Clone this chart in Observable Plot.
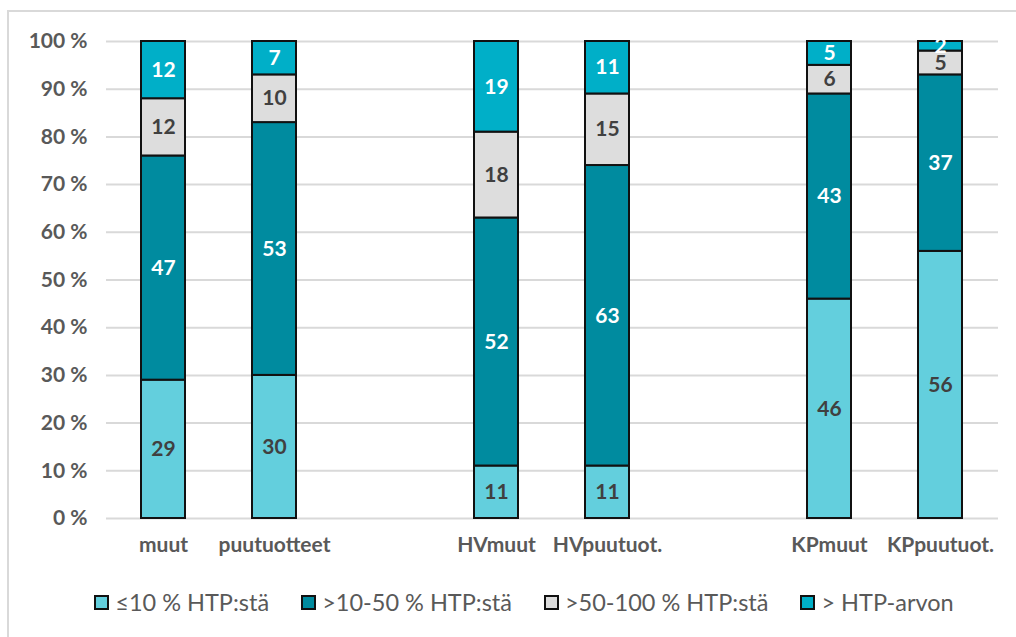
<!DOCTYPE html>
<html>
<head>
<meta charset="utf-8">
<script src="https://cdn.jsdelivr.net/npm/d3@7"></script>
<script src="https://cdn.jsdelivr.net/npm/@observablehq/plot@0.6"></script>
<style>
  html, body { margin: 0; padding: 0; background: #fff; }
  #frame { position: relative; width: 1016px; height: 637px; overflow: hidden; font-family: Lato, "Open Sans", sans-serif; }
  #frame .edge-top { position: absolute; left: 7px; top: 10px; width: 1009px; height: 2px; background: #d9d9d9; }
  #frame .edge-left { position: absolute; left: 7px; top: 10px; width: 2px; height: 627px; background: #d9d9d9; }
  #chart { position: absolute; left: 0; top: 0; }
  #legend { position: absolute; left: 0; top: 588px; width: 1016px; display: flex; justify-content: center; gap: 32px; padding-left: 32px; box-sizing: border-box; }
  #legend .item { display: flex; align-items: center; gap: 6px; font-size: 23.5px; color: #595959; }
  #legend .sw { width: 11px; height: 11px; border: 2px solid #111; }
</style>
</head>
<body>
<div id="frame">
  <div class="edge-top"></div>
  <div class="edge-left"></div>
  <div id="chart"></div>
  <div id="legend"></div>
</div>
<script>
// Category slots along the x axis; the two blank slots separate the groups
const slots = ["muut", "puutuotteet", "gap1", "HVmuut", "HVpuutuot.", "gap2", "KPmuut", "KPpuutuot."];
const categories = ["muut", "puutuotteet", "HVmuut", "HVpuutuot.", "KPmuut", "KPpuutuot."];

// Share classes (stack order bottom → top)
const seriesNames = ["≤10 % HTP:stä", ">10-50 % HTP:stä", ">50-100 % HTP:stä", "> HTP-arvon"];
const seriesColors = ["#63cfdd", "#008b9f", "#dddddd", "#00afc8"];
const labelColors = ["#404040", "#ffffff", "#404040", "#ffffff"];

// Percentages per category, one array per share class
const upTo10 = [29, 30, 11, 11, 46, 56];
const from10to50 = [47, 53, 52, 63, 43, 37];
const from50to100 = [12, 10, 18, 15, 6, 5];
const overLimit = [12, 7, 19, 11, 5, 2];

const yTicks = [0, 10, 20, 30, 40, 50, 60, 70, 80, 90, 100];

const seriesValues = [upTo10, from10to50, from50to100, overLimit];
const rows = [];
seriesValues.forEach((vals, s) => {
  vals.forEach((v, i) => rows.push({cat: categories[i], series: seriesNames[s], si: s, value: v}));
});

const chart = Plot.plot({
  width: 1016,
  height: 570,
  marginTop: 41,
  marginBottom: 52,
  marginLeft: 106,
  marginRight: 18,
  style: {fontFamily: "Lato, 'Open Sans', sans-serif", background: "transparent"},
  x: {domain: slots, paddingInner: 0.6, paddingOuter: 0.3, label: null},
  y: {domain: [0, 100], label: null},
  color: {domain: seriesNames, range: seriesColors},
  marks: [
    Plot.ruleY(yTicks, {stroke: "#d9d9d9", strokeWidth: 2}),
    Plot.barY(rows, {
      x: "cat", y: "value", fill: "series", z: "series",
      order: seriesNames,
      stroke: "#111", strokeWidth: 2
    }),
    Plot.text(rows, Plot.stackY({
      x: "cat", y: "value", z: "series", order: seriesNames,
      text: d => String(d.value),
      fill: d => labelColors[d.si],
      fontSize: 21, fontWeight: "bold"
    })),
    Plot.axisY({
      ticks: yTicks, tickFormat: d => d + " %", tickSize: 0, tickPadding: 19,
      fontSize: 21, fontWeight: "bold", fill: "#595959"
    }),
    Plot.axisX({
      tickSize: 0, tickPadding: 19,
      tickFormat: d => d.startsWith("gap") ? "" : d,
      fontSize: 21, fontWeight: "bold", fill: "#595959"
    })
  ]
});
document.getElementById("chart").appendChild(chart);

// Legend row beneath the plot
const legend = document.getElementById("legend");
seriesNames.forEach((name, i) => {
  const item = document.createElement("div");
  item.className = "item";
  const sw = document.createElement("span");
  sw.className = "sw";
  sw.style.background = seriesColors[i];
  const label = document.createElement("span");
  label.textContent = name;
  item.appendChild(sw);
  item.appendChild(label);
  legend.appendChild(item);
});
</script>
</body>
</html>
